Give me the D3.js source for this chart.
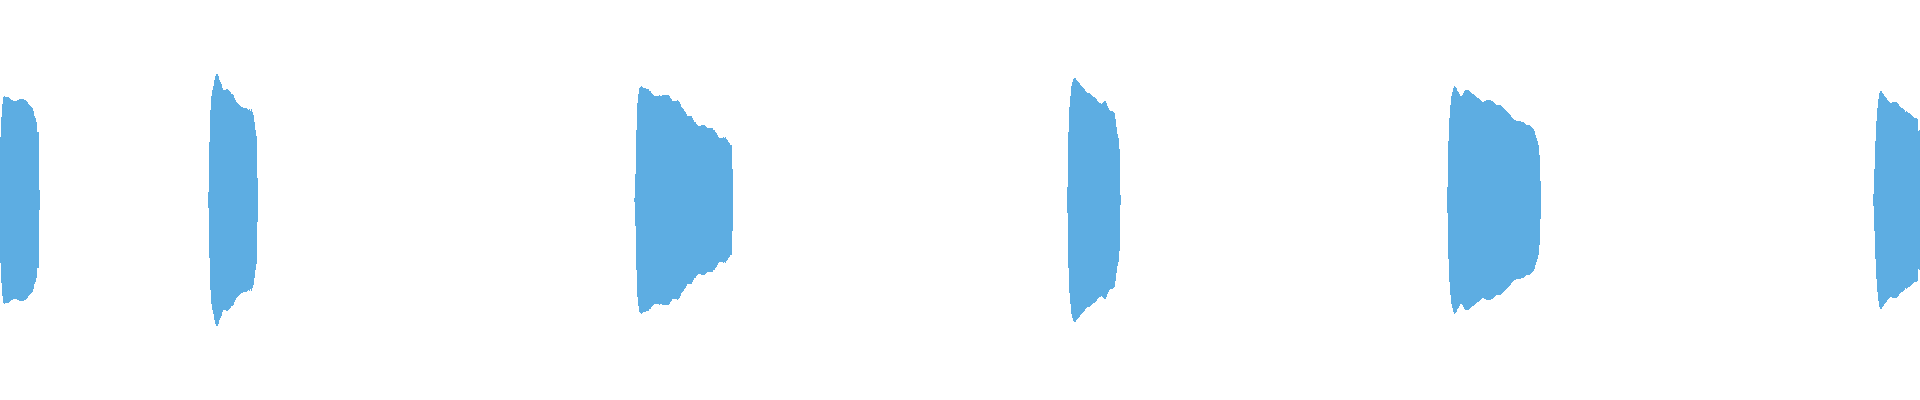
<!DOCTYPE html>
<html>
<head>
<meta charset="utf-8">
<script src="https://cdn.jsdelivr.net/npm/d3@7/dist/d3.min.js"></script>
<style>
  html, body { margin: 0; padding: 0; background: #ffffff; overflow: hidden; }
  svg { display: block; }
</style>
</head>
<body>
<svg id="chart" width="1920" height="400"></svg>
<script>
// Waveform envelope: each segment starts at a sample position and lists
// its peak amplitude (0..1) per sample column; the wave is symmetric.
const segmentStarts = [0, 208, 634, 1067, 1447, 1873];

const segment1 = [0.317,0.417,0.48,0.513,0.518,0.517,0.517,0.517,0.513,0.508,
  0.503,0.50,0.50,0.497,0.497,0.495,0.495,0.498,0.502,0.505,
  0.505,0.505,0.505,0.505,0.502,0.50,0.497,0.488,0.482,0.475,
  0.47,0.465,0.458,0.445,0.418,0.408,0.392,0.338,0.338,0.05];

const segment2 = [0.04,0.29,0.45,0.52,0.55,0.57,0.60,0.62,0.63,0.63,
  0.62,0.60,0.59,0.58,0.56,0.55,0.55,0.55,0.555,0.555,
  0.55,0.545,0.54,0.53,0.53,0.525,0.51,0.50,0.49,0.485,
  0.48,0.475,0.47,0.465,0.465,0.46,0.46,0.46,0.46,0.455,
  0.45,0.455,0.445,0.455,0.44,0.425,0.39,0.35,0.32,0.11];

const segment3 = [0.012,0.13,0.35,0.485,0.53,0.56,0.565,0.57,0.565,0.56,
  0.56,0.56,0.555,0.555,0.555,0.545,0.545,0.533,0.53,0.525,
  0.52,0.52,0.52,0.52,0.52,0.525,0.52,0.52,0.527,0.527,
  0.527,0.527,0.527,0.527,0.527,0.52,0.51,0.505,0.497,0.497,
  0.497,0.497,0.497,0.50,0.497,0.488,0.478,0.467,0.46,0.453,
  0.445,0.438,0.428,0.42,0.418,0.418,0.418,0.418,0.408,0.398,
  0.388,0.388,0.38,0.375,0.37,0.37,0.37,0.375,0.375,0.375,
  0.375,0.372,0.367,0.362,0.358,0.358,0.358,0.358,0.358,0.352,
  0.348,0.342,0.335,0.325,0.315,0.308,0.308,0.308,0.31,0.315,
  0.308,0.315,0.305,0.298,0.292,0.285,0.275,0.275,0.155];

const segment4 = [0.063,0.34,0.467,0.52,0.57,0.59,0.603,0.61,0.61,0.60,
  0.595,0.588,0.583,0.577,0.57,0.563,0.558,0.553,0.545,0.538,
  0.537,0.533,0.533,0.528,0.525,0.52,0.517,0.513,0.51,0.505,
  0.497,0.488,0.485,0.483,0.478,0.483,0.488,0.495,0.495,0.483,
  0.47,0.458,0.45,0.445,0.443,0.443,0.44,0.437,0.403,0.367,
  0.328,0.308,0.255,0.025];

const segment5 = [0.065,0.295,0.408,0.475,0.522,0.542,0.558,0.57,0.565,0.558,
  0.545,0.538,0.528,0.522,0.52,0.525,0.535,0.545,0.55,0.55,
  0.55,0.548,0.545,0.542,0.537,0.532,0.528,0.525,0.52,0.515,
  0.512,0.508,0.503,0.498,0.493,0.49,0.49,0.493,0.495,0.498,
  0.50,0.50,0.50,0.50,0.497,0.495,0.488,0.483,0.478,0.475,
  0.473,0.473,0.475,0.475,0.47,0.465,0.46,0.455,0.45,0.445,
  0.442,0.437,0.432,0.425,0.417,0.41,0.405,0.40,0.398,0.397,
  0.395,0.395,0.395,0.395,0.392,0.388,0.388,0.383,0.38,0.375,
  0.375,0.375,0.375,0.372,0.367,0.362,0.355,0.345,0.325,0.312,
  0.295,0.275,0.225,0.095];

const segment6 = [0.03,0.153,0.295,0.397,0.46,0.505,0.537,0.545,0.545,0.537,
  0.528,0.522,0.517,0.508,0.50,0.493,0.488,0.485,0.485,0.49,
  0.49,0.49,0.49,0.488,0.483,0.478,0.472,0.467,0.462,0.458,
  0.453,0.448,0.442,0.443,0.44,0.437,0.435,0.432,0.427,0.422,
  0.415,0.41,0.41,0.408,0.403,0.347,0.35];

const segments = [segment1, segment2, segment3, segment4, segment5, segment6];

const sampleDomain = [0, 1920];
const amplitudeDomain = [-1, 1];
const waveColor = "#5dade2";

const width = 1920, height = 400;
const svg = d3.select("#chart");

const x = d3.scaleLinear().domain(sampleDomain).range([0, width]);
const y = d3.scaleLinear().domain(amplitudeDomain).range([height, 0]);

const area = d3.area()
  .x(d => x(d.t))
  .y0(d => y(-d.a))
  .y1(d => y(d.a))
  .curve(d3.curveStepAfter);

const seriesData = segments.map((amps, i) => {
  const pts = amps.map((a, j) => ({ t: segmentStarts[i] + j, a }));
  const last = pts[pts.length - 1];
  pts.push({ t: last.t + 1, a: last.a });
  return pts;
});

svg.append("g")
  .selectAll("path")
  .data(seriesData)
  .join("path")
  .attr("d", area)
  .attr("fill", waveColor)
  .attr("shape-rendering", "crispEdges");
</script>
</body>
</html>
